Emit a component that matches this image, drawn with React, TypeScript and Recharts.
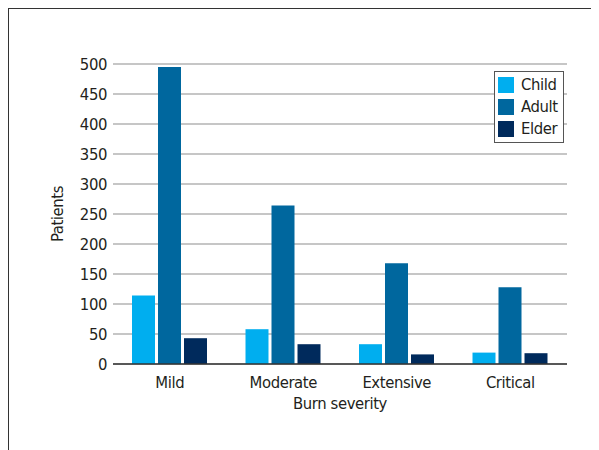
import { BarChart, Bar, XAxis, YAxis, CartesianGrid, Label } from "recharts";

const severities = ["Mild", "Moderate", "Extensive", "Critical"];
const child = [114, 58, 33, 19];
const adult = [495, 264, 168, 128];
const elder = [43, 33, 16, 18];
const yTicks = [0, 50, 100, 150, 200, 250, 300, 350, 400, 450, 500];

const groups = [
  { key: "child", name: "Child", color: "#00aeef" },
  { key: "adult", name: "Adult", color: "#00679e" },
  { key: "elder", name: "Elder", color: "#002a5c" },
];

const data = severities.map((name, i) => ({
  name,
  child: child[i],
  adult: adult[i],
  elder: elder[i],
}));

const FONT = '"DejaVu Sans Condensed", "Noto Sans", sans-serif';
const TEXT = "#231f20";
const textStyle = { fill: TEXT, fontSize: 16.5, fontFamily: FONT, letterSpacing: -0.4 };

// legend box sits inside the plot, top right
const LegendBox = () => (
  <div
    style={{
      position: "absolute",
      left: 494,
      top: 71,
      border: "1.5px solid #555",
      padding: "2px 5px 2px 3px",
      background: "#fff",
      fontFamily: FONT,
      fontSize: 16.5,
      letterSpacing: -0.4,
      color: TEXT,
      lineHeight: "22px",
    }}
  >
    {groups.map((g) => (
      <div key={g.key} style={{ display: "flex", alignItems: "center" }}>
        <span
          style={{
            display: "inline-block",
            width: 16,
            height: 16,
            background: g.color,
            marginRight: 7,
          }}
        />
        {g.name}
      </div>
    ))}
  </div>
);

export default function App() {
  return (
    <div style={{ position: "relative", width: 599, height: 450, margin: "-8px 0 0 -8px", background: "#fff" }}>
      <div
        style={{
          position: "absolute",
          left: 8,
          top: 8,
          right: 0,
          bottom: 0,
          borderTop: "1.5px solid #333",
          borderLeft: "1.5px solid #333",
        }}
      />
      <BarChart
        width={599}
        height={450}
        data={data}
        margin={{ top: 64, right: 32, left: 40, bottom: 36 }}
        barSize={23}
        barGap={3}
        style={{ position: "absolute", left: 0, top: 0 }}
      >
        <CartesianGrid vertical={false} stroke="#b3b3b3" strokeWidth={1.5} />
        <XAxis
          dataKey="name"
          height={50}
          tickLine={false}
          axisLine={{ stroke: "#333", strokeWidth: 1.5 }}
          tick={textStyle}
          tickMargin={6}
        >
          <Label value="Burn severity" position="insideBottom" offset={5} style={textStyle} />
        </XAxis>
        <YAxis
          width={73}
          domain={[0, 500]}
          ticks={yTicks}
          interval={0}
          tickLine={false}
          axisLine={false}
          tickSize={0}
          tickMargin={6}
          tick={textStyle}
        >
          <Label
            value="Patients"
            angle={-90}
            position="insideLeft"
            offset={17}
            style={{ ...textStyle, textAnchor: "middle" }}
          />
        </YAxis>
        {groups.map((g) => (
          <Bar key={g.key} dataKey={g.key} name={g.name} fill={g.color} isAnimationActive={false} />
        ))}
      </BarChart>
      <LegendBox />
    </div>
  );
}
